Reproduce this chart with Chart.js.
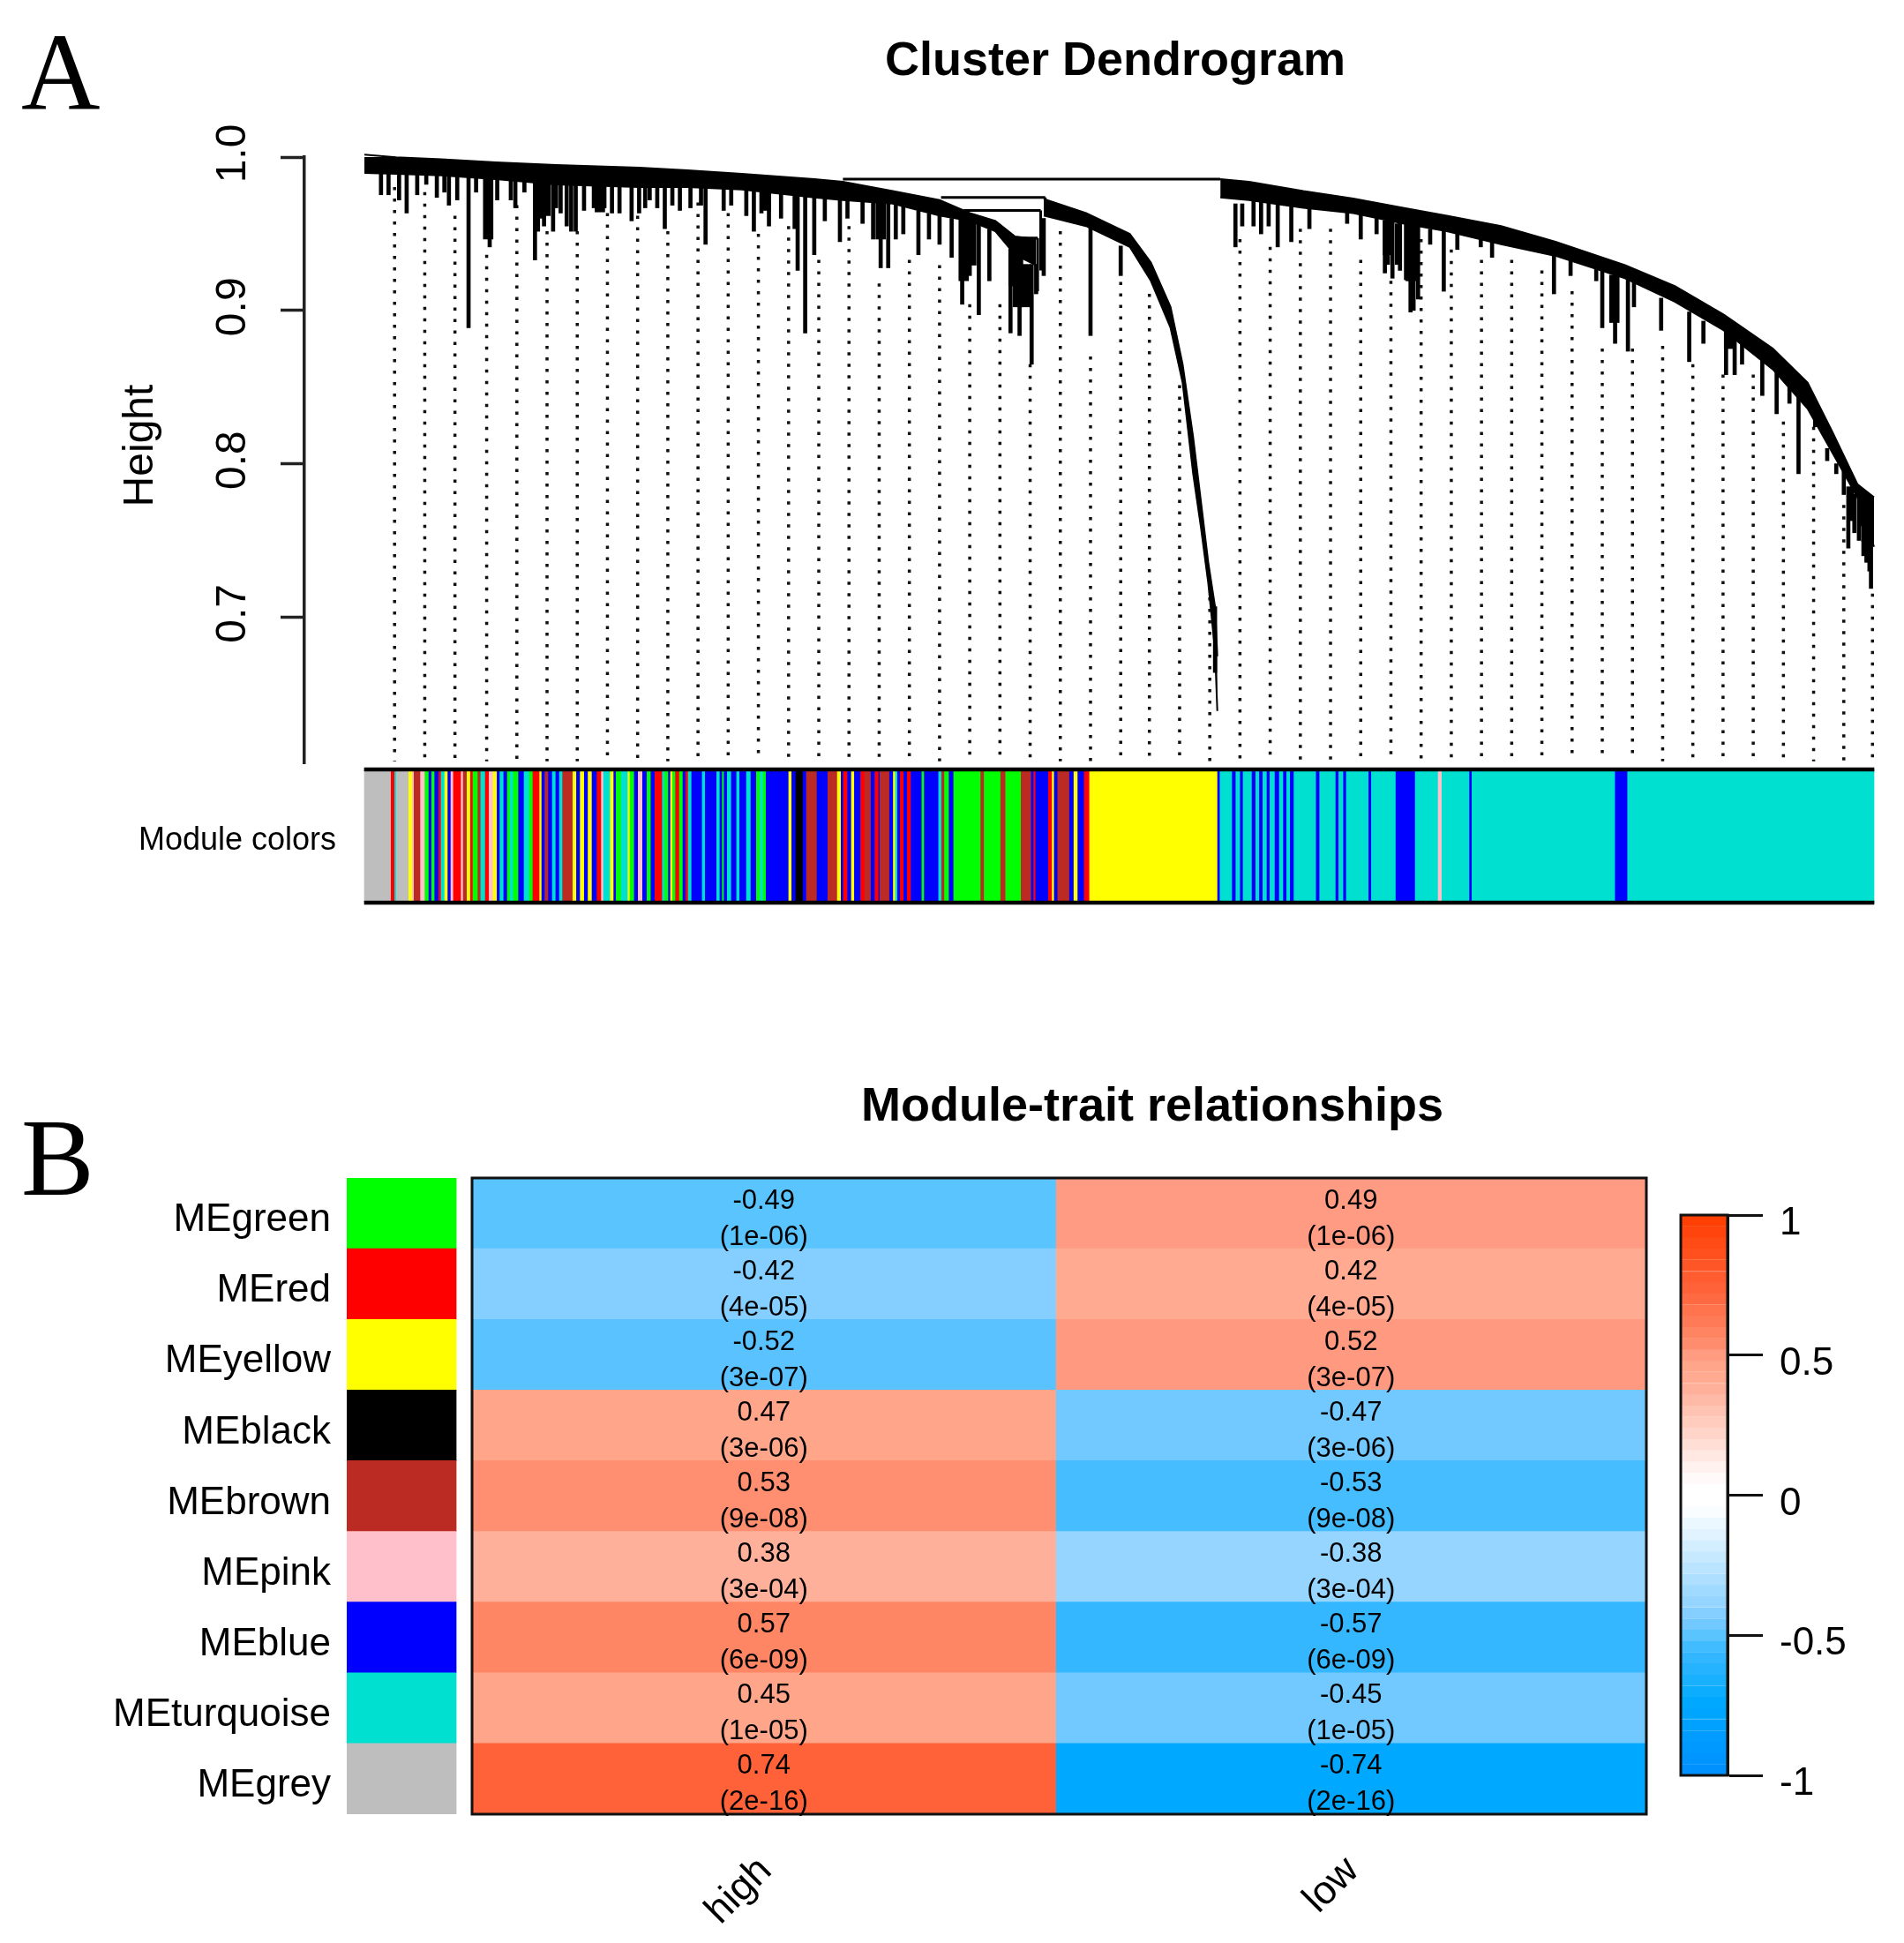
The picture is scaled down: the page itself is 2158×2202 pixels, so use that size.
<!DOCTYPE html>
<html>
<head>
<meta charset="utf-8">
<title>Cluster dendrogram and module-trait relationships</title>
<script src="https://cdn.jsdelivr.net/npm/chart.js@4"></script>
<style>
  html, body { margin: 0; background: #fff; }
  body { position: relative; width: 2158px; height: 2202px; overflow: hidden; }
  canvas { position: absolute; left: 0; top: 0; }
</style>
</head>
<body>
<canvas id="dendro" width="2158" height="2202"></canvas>
<canvas id="strip" width="2158" height="2202"></canvas>
<canvas id="heat" width="2158" height="2202"></canvas>
<canvas id="scale" width="2158" height="2202"></canvas>
<script>
// dendrogram, x is position in the gene order (0-1000), y is height
const heightTicks = [0.7, 0.8, 0.9, 1.0];

const band1X = [0, 21, 51, 87, 127, 182, 214, 250, 298, 317, 350, 381, 401, 418, 431, 445];
const band1Top = [1.0016, 0.9999, 0.9985, 0.9965, 0.9948, 0.9931, 0.9914, 0.989, 0.9856, 0.9839, 0.9778, 0.972, 0.9635, 0.9584, 0.9482, 0.9465];
const band1Bottom = [0.9897, 0.989, 0.988, 0.9856, 0.9822, 0.9805, 0.9805, 0.9788, 0.9737, 0.972, 0.9696, 0.9618, 0.9584, 0.9516, 0.9363, 0.9295];

const band2X = [450, 478, 507, 521, 534, 542, 549, 554, 559, 563.5, 565];
const band2Top = [0.9727, 0.9635, 0.9499, 0.9312, 0.9023, 0.8649, 0.8173, 0.7765, 0.7357, 0.7068, 0.6745];
const band2Bottom = [0.9618, 0.955, 0.9414, 0.9193, 0.8887, 0.853, 0.7935, 0.7595, 0.7221, 0.6779, 0.6388];

const band3X = [567, 586, 622, 655, 688, 717, 753, 789, 835, 868, 900.5, 933, 956, 972.5, 989, 1000];
const band3Top = [0.9856, 0.9839, 0.9778, 0.973, 0.9669, 0.9618, 0.955, 0.9448, 0.9295, 0.9159, 0.8972, 0.8751, 0.853, 0.8207, 0.7867, 0.7782];
const band3Bottom = [0.9737, 0.972, 0.9669, 0.9635, 0.9567, 0.9516, 0.9431, 0.9356, 0.921, 0.9057, 0.887, 0.8615, 0.836, 0.8071, 0.7782, 0.7459];

const spikeX = [11, 16, 28, 41, 53, 61.5, 69, 74, 83, 97, 113, 119, 127, 137, 145.5, 156, 164, 177, 189, 199, 209, 226, 238, 258, 268, 287, 292, 298, 315, 330, 342, 347, 352, 367, 381, 396, 407, 414, 428, 434, 442, 445, 450, 481, 501,
  577, 581.5, 589, 594, 599, 605, 614, 626, 651, 660, 670.5, 676, 681, 686, 693, 698, 706, 715, 724, 739.5, 747, 788, 799, 816, 820, 828.5, 837, 841, 859, 877.6, 887, 902, 907.7, 912.6, 926, 935.5, 944, 950, 961, 969, 975, 980, 985.5, 992, 995, 998,
  23, 35, 48, 56, 88, 100, 106, 115, 125, 130, 134, 140, 152, 159, 169, 182, 186, 194, 204, 216, 223, 243, 253, 263, 276, 285, 305, 320, 337, 357, 374, 389, 401,
  678, 684, 690, 695, 983, 987, 990, 993, 997, 563.5];
const spikeTop = [0.9893, 0.9892, 0.989, 0.988, 0.988, 0.9873, 0.9868, 0.9865, 0.9858, 0.985, 0.9835, 0.983, 0.9822, 0.9818, 0.9815, 0.981, 0.981, 0.9806, 0.9805, 0.9805, 0.9805, 0.98, 0.9795, 0.978, 0.977, 0.975, 0.974, 0.9737, 0.972, 0.971, 0.97, 0.9696, 0.969, 0.965, 0.9618, 0.96, 0.956, 0.953, 0.94, 0.935, 0.93, 0.93, 0.96, 0.954, 0.942,
  0.9695, 0.9695, 0.9715, 0.971, 0.97, 0.969, 0.968, 0.9665, 0.964, 0.963, 0.96, 0.9585, 0.9575, 0.957, 0.956, 0.955, 0.953, 0.952, 0.95, 0.947, 0.945, 0.9356, 0.933, 0.927, 0.926, 0.923, 0.921, 0.92, 0.908, 0.899, 0.893, 0.887, 0.883, 0.88, 0.868, 0.862, 0.85, 0.845, 0.83, 0.81, 0.8, 0.795, 0.785, 0.778, 0.775, 0.77,
  0.989, 0.9885, 0.988, 0.9875, 0.9855, 0.985, 0.984, 0.983, 0.982, 0.982, 0.982, 0.982, 0.981, 0.981, 0.981, 0.98, 0.98, 0.98, 0.98, 0.98, 0.98, 0.979, 0.978, 0.977, 0.976, 0.975, 0.973, 0.972, 0.971, 0.968, 0.963, 0.96, 0.958,
  0.9567, 0.9565, 0.956, 0.955, 0.785, 0.78, 0.778, 0.776, 0.775, 0.7068];
const spikeBottom = [0.9754, 0.9754, 0.9635, 0.9822, 0.9771, 0.972, 0.8887, 0.9771, 0.9414, 0.972, 0.9329, 0.955, 0.9669, 0.9516, 0.9652, 0.9652, 0.9635, 0.9584, 0.972, 0.9533, 0.9652, 0.9431, 0.9652, 0.9516, 0.955, 0.9261, 0.8853, 0.9363, 0.9448, 0.9567, 0.9278, 0.9278, 0.9465, 0.9363, 0.9431, 0.904, 0.8972, 0.9193, 0.8853, 0.8836, 0.8649, 0.9108, 0.9227, 0.8836, 0.9227,
  0.9414, 0.955, 0.955, 0.9499, 0.955, 0.9414, 0.9448, 0.9533, 0.9567, 0.9465, 0.9499, 0.9244, 0.921, 0.9261, 0.8989, 0.9074, 0.9431, 0.9125, 0.9397, 0.9414, 0.9346, 0.9108, 0.9227, 0.9193, 0.8887, 0.8785, 0.8734, 0.9023, 0.887, 0.8666, 0.8785, 0.8581, 0.8581, 0.8649, 0.8445, 0.8326, 0.8394, 0.7935, 0.8241, 0.802, 0.7935, 0.7799, 0.7629, 0.7595, 0.7357, 0.7187,
  0.972, 0.9754, 0.9737, 0.9686, 0.972, 0.9669, 0.9771, 0.9516, 0.9516, 0.9635, 0.955, 0.9516, 0.9669, 0.9669, 0.9635, 0.9635, 0.9669, 0.9669, 0.9686, 0.9669, 0.9686, 0.9686, 0.9618, 0.9635, 0.9601, 0.9533, 0.9584, 0.9601, 0.9465, 0.9499, 0.9465, 0.9346, 0.9227,
  0.93, 0.93, 0.92, 0.9, 0.745, 0.755, 0.75, 0.74, 0.73, 0.6639];

const clumpX = [82, 117, 120, 156, 266, 342, 397, 402, 430, 433, 438, 678, 693, 694, 828, 904, 995];
const clumpTop = [0.986, 0.983, 0.983, 0.981, 0.977, 0.97, 0.96, 0.958, 0.94, 0.935, 0.93, 0.9585, 0.956, 0.956, 0.923, 0.886, 0.776];
const clumpBottom = [0.9465, 0.9601, 0.9618, 0.9642, 0.9652, 0.9465, 0.9193, 0.9295, 0.9159, 0.9023, 0.9023, 0.9363, 0.9193, 0.9193, 0.8921, 0.8751, 0.7493];

const branchFrom = [317, 382, 397, 428, 431, 451, 448, 446];
const branchTo = [567, 451, 448, 446, 441, 451, 448, 446];
const branchHigh = [0.9856, 0.9737, 0.9652, 0.9472, 0.939, 0.9737, 0.9652, 0.9472];
const branchLow = [0.9856, 0.9737, 0.9652, 0.9472, 0.939, 0.9618, 0.9261, 0.9125];

const guideX = [20, 40, 60, 81, 101, 121, 141, 161, 181, 201, 221, 241, 261, 281, 301, 321, 341, 361, 381, 401, 421, 441, 461, 481, 501,
  520, 540, 560, 580, 600, 620, 640, 660, 680, 700, 720, 740, 760, 780, 800, 820, 840, 860, 880, 900, 920, 940, 960, 980, 999];
const guideTop = [0.9805, 0.9771, 0.9618, 0.9363, 0.9686, 0.9516, 0.9516, 0.9635, 0.9618, 0.9516, 0.9703, 0.9635, 0.9499, 0.955, 0.9329, 0.955, 0.9176, 0.9329, 0.9295, 0.904, 0.904, 0.8649, 0.9516, 0.87, 0.9261,
  0.9108, 0.8513, 0.7204, 0.9465, 0.9414, 0.9533, 0.9533, 0.9329, 0.9193, 0.9465, 0.9397, 0.9329, 0.9329, 0.9261, 0.9125, 0.8751, 0.8751, 0.8768, 0.8649, 0.8581, 0.8581, 0.8275, 0.8241, 0.7731, 0.7153];

// module colour strip, each segment ends at stripEnd
const stripEnd = [17.7, 20.1, 21.2, 29.4, 31.8, 32.9, 37.2, 40.1, 42.7, 44.6, 46.6, 49.3, 50.8, 53.2, 55.3, 57.3, 59, 64.1, 65.5, 68, 70.3, 71.9, 75.2, 77.1, 80.1, 82.6, 85.3, 87.9, 89.8, 92.3, 94.7, 96.6, 98.6, 102.1, 105.8, 109.3, 111.6, 116.1, 117.5, 119.6, 121.9, 124.5, 126.8, 129.2, 131.3, 138.1, 140.5, 143, 145.7, 148.2, 150.8, 154.1, 157, 158.4, 162.9, 165.2,
  166.8, 170.1, 174.6, 175.9, 178.8, 181.4, 184.3, 187.2, 189.8, 192.5, 197.4, 198.9, 201.4, 202.8, 204.2, 206.1, 208.7, 211, 212.9, 214.5, 216.8, 223.8, 225.8, 233.4, 235.5, 237.1, 238.3, 240.4, 243.1, 246.6, 248.6, 253.1, 256, 259.7, 262.2, 264.2, 266.1, 281.1, 283.1, 285.8, 290.5, 292.8, 299.8, 307, 313.3, 315.8, 317.3, 320.1, 322.6, 324.6, 328.8, 331.4,
  335.6, 338.2, 340.7, 341.5, 347.9, 350.4, 351.8, 353.2, 355.1, 357.3, 359.6, 362.1, 369.3, 370.9, 380.4, 382.4, 384.3, 387.3, 390.4, 408.3, 410.6, 421.5, 424.8, 435, 441.8, 443.4, 444.7, 453.1, 455.6, 457, 459.3, 467.1, 470, 472.6, 476.9, 480.4, 565.2,
  566.8, 574.9, 577.3, 580.2, 582.1, 588, 590.5, 592.9, 595.2, 597.9, 599.9, 603.2, 606.1, 608.8, 611, 613.3, 615.8, 630.5, 632.8, 643.5, 645.5, 648.6, 650.5, 665.3, 667.1, 683.3, 696.1, 711.3, 713.8, 732.1, 733.7, 828.6, 836.8, 1000];
const stripModule = ["grey", "red", "turquoise", "grey", "yellow", "pink", "brown", "pink", "green", "blue", "green", "blue", "red", "turquoise", "yellow", "blue", "pink", "red", "pink", "brown", "yellow", "red", "green", "brown", "turquoise", "red", "pink", "yellow", "blue", "turquoise", "blue", "green", "turquoise", "green", "blue", "turquoise", "green", "red", "yellow", "blue", "brown", "blue", "turquoise", "blue", "turquoise", "brown", "yellow", "blue", "yellow", "blue", "yellow", "blue", "red", "pink", "turquoise", "yellow",
  "blue", "green", "turquoise", "yellow", "green", "blue", "pink", "blue", "green", "blue", "red", "turquoise", "green", "blue", "yellow", "green", "red", "green", "blue", "red", "turquoise", "blue", "turquoise", "blue", "turquoise", "blue", "green", "blue", "turquoise", "blue", "turquoise", "blue", "turquoise", "blue", "green", "turquoise", "green", "blue", "yellow", "blue", "black", "blue", "brown", "blue", "brown", "yellow", "blue", "red", "blue", "yellow", "blue", "red",
  "brown", "blue", "red", "blue", "brown", "blue", "yellow", "turquoise", "blue", "red", "blue", "red", "blue", "green", "blue", "turquoise", "brown", "green", "blue", "green", "brown", "green", "brown", "green", "brown", "blue", "red", "blue", "red", "yellow", "blue", "brown", "blue", "yellow", "blue", "red", "yellow",
  "blue", "turquoise", "blue", "turquoise", "blue", "turquoise", "blue", "turquoise", "blue", "turquoise", "blue", "turquoise", "blue", "turquoise", "blue", "turquoise", "blue", "turquoise", "blue", "turquoise", "blue", "turquoise", "blue", "turquoise", "blue", "turquoise", "blue", "turquoise", "pink", "turquoise", "blue", "turquoise", "blue", "turquoise"];

const moduleColors = {
  grey: "#bebebe", red: "#ff0000", turquoise: "#00e0d0", yellow: "#ffff00", pink: "#ffc0cb",
  brown: "#bc2a24", green: "#00ff00", blue: "#0000ff", black: "#000000",
};

// module-trait heatmap
const moduleNames = ["MEgreen", "MEred", "MEyellow", "MEblack", "MEbrown", "MEpink", "MEblue", "MEturquoise", "MEgrey"];
const swatchNames = ["green", "red", "yellow", "black", "brown", "pink", "blue", "turquoise", "grey"];
const traitNames = ["high", "low"];
const corrHigh = [-0.49, -0.42, -0.52, 0.47, 0.53, 0.38, 0.57, 0.45, 0.74];
const corrLow = [0.49, 0.42, 0.52, -0.47, -0.53, -0.38, -0.57, -0.45, -0.74];
const pValues = ["(1e-06)", "(4e-05)", "(3e-07)", "(3e-06)", "(9e-08)", "(3e-04)", "(6e-09)", "(1e-05)", "(2e-16)"];

// colour legend
const legendTicks = [-1, -0.5, 0, 0.5, 1];
const legendEdges = [-1, -0.96, -0.92, -0.88, -0.84, -0.8, -0.76, -0.72, -0.68, -0.64, -0.6, -0.56, -0.52, -0.48, -0.44, -0.4, -0.36, -0.32, -0.28, -0.24, -0.2, -0.16, -0.12, -0.08, -0.04, 0,
  0.04, 0.08, 0.12, 0.16, 0.2, 0.24, 0.28, 0.32, 0.36, 0.4, 0.44, 0.48, 0.52, 0.56, 0.6, 0.64, 0.68, 0.72, 0.76, 0.8, 0.84, 0.88, 0.92, 0.96, 1];

const colorStops = [
  [-1, [0, 143, 255]], [-0.74, [0, 169, 255]], [-0.57, [52, 183, 255]], [-0.53, [69, 189, 255]], [-0.52, [90, 195, 255]],
  [-0.49, [90, 196, 255]], [-0.47, [114, 201, 255]], [-0.45, [114, 201, 255]], [-0.42, [132, 207, 255]], [-0.38, [149, 213, 255]],
  [-0.04, [255, 255, 255]], [0.04, [255, 255, 255]],
  [0.38, [255, 176, 155]], [0.45, [255, 165, 138]], [0.47, [255, 165, 138]], [0.49, [255, 155, 130]], [0.52, [255, 154, 128]],
  [0.53, [255, 143, 112]], [0.57, [255, 134, 100]], [0.74, [255, 98, 56]], [1, [255, 60, 0]],
];

const FONT = '"Liberation Sans", Arial, sans-serif';
const SERIF = '"Liberation Serif", "Times New Roman", serif';
const COLUMN_SPLIT = 0.994;

const colorFor = (value) => {
  for (let i = 1; i < colorStops.length; i++) {
    const [v0, c0] = colorStops[i - 1];
    const [v1, c1] = colorStops[i];
    if (value <= v1) {
      const t = (value - v0) / (v1 - v0);
      const rgb = c0.map((c, k) => Math.round(c + (c1[k] - c) * t));
      return `rgb(${rgb.join(",")})`;
    }
  }
  return "rgb(255,60,0)";
};

const zip = (xs, ys) => xs.map((x, i) => ({ x, y: ys[i] }));

const bandDatasets = (xs, top, bottom) => [
  { type: "line", data: zip(xs, top), borderColor: "#000", borderWidth: 2, pointRadius: 0, clip: false },
  { type: "line", data: zip(xs, bottom), borderColor: "#000", borderWidth: 2, pointRadius: 0, clip: false, fill: "-1", backgroundColor: "#000" },
];

const drawText = (ctx, text, x, y, font, opts = {}) => {
  ctx.save();
  ctx.font = font;
  ctx.fillStyle = "#000";
  ctx.textAlign = opts.align || "center";
  ctx.textBaseline = opts.baseline || "middle";
  ctx.translate(x, y);
  if (opts.rotate) ctx.rotate(opts.rotate);
  ctx.fillText(text, 0, 0);
  ctx.restore();
};

const baseOptions = (padding) => ({
  responsive: false,
  animation: false,
  devicePixelRatio: 1,
  layout: { padding },
  plugins: { legend: { display: false }, tooltip: { enabled: false } },
});

const guideData = [];
guideX.forEach((x, i) => {
  guideData.push({ x, y: guideTop[i] }, { x, y: 0.606 }, { x, y: null });
});
const branchData = [];
branchFrom.forEach((x, i) => {
  branchData.push({ x, y: branchHigh[i] }, { x: branchTo[i], y: branchLow[i] }, { x, y: null });
});

const renderDendrogram = () => {
  new Chart(document.getElementById("dendro"), {
    type: "line",
    data: {
      datasets: [
        ...bandDatasets(band1X, band1Top, band1Bottom),
        ...bandDatasets(band2X, band2Top, band2Bottom),
        ...bandDatasets(band3X, band3Top, band3Bottom),
        { type: "line", data: branchData, borderColor: "#000", borderWidth: 3, pointRadius: 0, clip: false },
        { type: "bar", data: spikeX.map((x, i) => ({ x, y: [spikeBottom[i], spikeTop[i]] })), backgroundColor: "#000", barThickness: 4, grouped: false },
        { type: "bar", data: clumpX.map((x, i) => ({ x, y: [clumpBottom[i], clumpTop[i]] })), backgroundColor: "#000", barThickness: 11, grouped: false },
        { type: "line", data: guideData, borderColor: "#111", borderWidth: 3.5, borderDash: [3.5, 9.5], pointRadius: 0 },
      ],
    },
    options: {
      ...baseOptions({ left: 0, right: 34, top: 178, bottom: 1337 }),
      scales: {
        x: { type: "linear", display: false, min: -39.74, max: 1000, offset: false },
        y: {
          type: "linear",
          min: 0.6047,
          max: 1,
          afterFit: (scale) => { scale.width = 345; },
          afterBuildTicks: (scale) => { scale.ticks = heightTicks.map((value) => ({ value })); },
          ticks: { display: false },
          grid: { drawOnChartArea: false, tickLength: 27, tickWidth: 3.5, tickColor: "#222" },
          border: { color: "#222", width: 3.5 },
        },
      },
    },
    plugins: [{
      id: "dendroText",
      afterDraw: (chart) => {
        const { ctx } = chart;
        const y = chart.scales.y;
        heightTicks.forEach((t) => {
          drawText(ctx, t.toFixed(1), 265, y.getPixelForValue(t) - 4, `48px ${FONT}`, { rotate: -Math.PI / 2 });
        });
        drawText(ctx, "Height", 160, 505, `48px ${FONT}`, { rotate: -Math.PI / 2 });
        drawText(ctx, "Cluster Dendrogram", 1264, 70, `bold 54px ${FONT}`);
        drawText(ctx, "A", 24, 124, `124px ${SERIF}`, { align: "left", baseline: "alphabetic" });
      },
    }],
  });
};

const renderStrip = () => {
  new Chart(document.getElementById("strip"), {
    type: "bar",
    data: {
      datasets: [
        {
          data: [{ x: [0, 1000], y: 1 }, { x: [0, 1000], y: 0 }],
          backgroundColor: "#000",
          barThickness: 4,
          grouped: false,
          clip: false,
        },
        {
          data: stripEnd.map((end, i) => ({ x: [i === 0 ? 0 : stripEnd[i - 1], end], y: 0.5 })),
          backgroundColor: stripModule.map((name) => moduleColors[name]),
          barThickness: 151,
          grouped: false,
          clip: false,
        },
      ],
    },
    options: {
      ...baseOptions({ left: 0, right: 34, top: 872, bottom: 1179 }),
      indexAxis: "y",
      scales: {
        x: { type: "linear", display: false, min: 0, max: 1000 },
        y: {
          type: "linear",
          min: 0,
          max: 1,
          offset: false,
          afterFit: (scale) => { scale.width = 413; },
          afterBuildTicks: (scale) => { scale.ticks = [{ value: 0.5 }]; },
          ticks: { callback: () => "Module colors", font: { family: FONT, size: 36 }, color: "#000", padding: 32, labelOffset: 6 },
          grid: { display: false, drawTicks: false },
          border: { display: false },
        },
      },
    },
  });
};

const renderHeatmap = () => {
  new Chart(document.getElementById("heat"), {
    type: "bar",
    data: {
      labels: moduleNames,
      datasets: [
        { data: moduleNames.map(() => [-0.2134, -0.027]), backgroundColor: swatchNames.map((name) => moduleColors[name]) },
        { data: moduleNames.map(() => [0, COLUMN_SPLIT]), backgroundColor: corrHigh.map(colorFor) },
        { data: moduleNames.map(() => [COLUMN_SPLIT, 2]), backgroundColor: corrLow.map(colorFor) },
      ],
    },
    options: {
      ...baseOptions({ left: 0, right: 292, top: 1335, bottom: 0 }),
      indexAxis: "y",
      datasets: { bar: { grouped: false, barPercentage: 1, categoryPercentage: 1 } },
      scales: {
        x: {
          type: "linear",
          min: -0.2134,
          max: 2,
          afterFit: (scale) => { scale.height = 146; },
          afterBuildTicks: (scale) => { scale.ticks = [{ value: 0.5 }, { value: 1.5 }]; },
          ticks: {
            callback: (value) => traitNames[Math.floor(value)],
            font: { family: FONT, size: 45 },
            color: "#000",
            minRotation: 45,
            maxRotation: 45,
            autoSkip: false,
            padding: 38,
          },
          grid: { display: false, drawTicks: false },
          border: { display: false },
        },
        y: {
          type: "category",
          afterFit: (scale) => { scale.width = 393; },
          ticks: { font: { family: FONT, size: 44 }, color: "#000", padding: 18, labelOffset: 8, autoSkip: false },
          grid: { display: false, drawTicks: false },
          border: { display: false },
        },
      },
    },
    plugins: [{
      id: "heatText",
      afterDraw: (chart) => {
        const { ctx } = chart;
        const { x, y } = chart.scales;
        const left = x.getPixelForValue(0);
        const right = x.getPixelForValue(2);
        ctx.save();
        ctx.strokeStyle = "#111";
        ctx.lineWidth = 3;
        ctx.strokeRect(left, chart.chartArea.top, right - left, chart.chartArea.bottom - chart.chartArea.top);
        ctx.restore();
        moduleNames.forEach((name, i) => {
          const cy = y.getPixelForValue(i);
          [corrHigh, corrLow].forEach((corr, col) => {
            const cx = x.getPixelForValue(col + 0.5) - 2;
            drawText(ctx, corr[i].toFixed(2), cx, cy - 14, `31px ${FONT}`);
            drawText(ctx, pValues[i], cx, cy + 27, `31px ${FONT}`);
          });
        });
        drawText(ctx, "Module-trait relationships", 1306, 1255, `bold 54px ${FONT}`);
        drawText(ctx, "B", 24, 1354, `124px ${SERIF}`, { align: "left", baseline: "alphabetic" });
      },
    }],
  });
};

const renderLegend = () => {
  new Chart(document.getElementById("scale"), {
    type: "bar",
    data: {
      datasets: [{
        data: legendEdges.slice(1).map((edge, i) => ({ x: 0.5, y: [legendEdges[i], edge] })),
        backgroundColor: legendEdges.slice(1).map((edge, i) => colorFor((edge + legendEdges[i]) / 2)),
        borderColor: legendEdges.slice(1).map((edge, i) => colorFor((edge + legendEdges[i]) / 2)),
        borderWidth: 1,
        barThickness: 53,
        grouped: false,
      }],
    },
    options: {
      ...baseOptions({ left: 1905, right: 0, top: 1377, bottom: 190 }),
      scales: {
        x: { type: "linear", display: false, min: 0, max: 1, offset: false },
        y: {
          type: "linear",
          position: "right",
          min: -1,
          max: 1,
          afterFit: (scale) => { scale.width = 200; },
          afterBuildTicks: (scale) => { scale.ticks = legendTicks.map((value) => ({ value })); },
          ticks: { callback: (value) => String(value), font: { family: FONT, size: 44 }, color: "#000", padding: 19, labelOffset: 10 },
          grid: { drawOnChartArea: false, tickLength: 40, tickWidth: 3, tickColor: "#111" },
          border: { color: "#111", width: 3 },
        },
      },
    },
    plugins: [{
      id: "legendFrame",
      afterDraw: (chart) => {
        const { ctx, chartArea } = chart;
        ctx.save();
        ctx.strokeStyle = "#111";
        ctx.lineWidth = 3;
        ctx.strokeRect(chartArea.left, chartArea.top, chartArea.right - chartArea.left, chartArea.bottom - chartArea.top);
        ctx.restore();
      },
    }],
  });
};

renderDendrogram();
renderStrip();
renderHeatmap();
renderLegend();
</script>
</body>
</html>
